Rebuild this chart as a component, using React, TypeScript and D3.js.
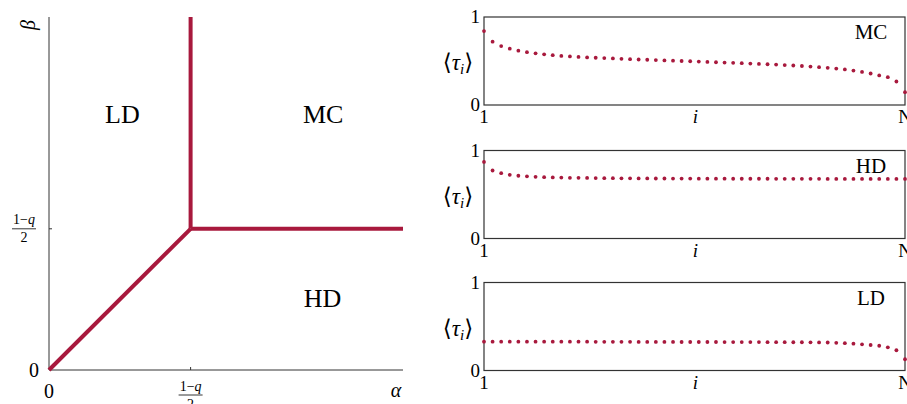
import React from "react";
import * as d3 from "d3";

// ---------- data ----------
const qc = 0.4; // (1-q)/2 position on both axes
const phaseBoundaries: [number, number][][] = [
  [[0, 0], [qc, qc]],
  [[qc, qc], [qc, 1]],
  [[qc, qc], [1, qc]],
];
const phaseLabels = [
  { text: "LD", a: 0.213, b: 0.725 },
  { text: "MC", a: 0.78, b: 0.725 },
  { text: "HD", a: 0.778, b: 0.204 },
];

const mcValues = [
  0.84, 0.72, 0.67, 0.64, 0.617, 0.6, 0.587, 0.576, 0.566, 0.558,
  0.552, 0.546, 0.541, 0.537, 0.533, 0.529, 0.525, 0.521, 0.517, 0.514,
  0.511, 0.507, 0.504, 0.5, 0.497, 0.493, 0.489, 0.486, 0.482, 0.479,
  0.475, 0.471, 0.467, 0.463, 0.459, 0.454, 0.449, 0.443, 0.437, 0.43,
  0.423, 0.414, 0.404, 0.391, 0.376, 0.358, 0.336, 0.316, 0.267, 0.146,
];
const hdValues = [
  0.87, 0.773, 0.742, 0.724, 0.713, 0.706, 0.701, 0.697, 0.694, 0.692,
  0.69, 0.689, 0.688, 0.687, 0.686, 0.685, 0.684, 0.684, 0.683, 0.683,
  0.682, 0.682, 0.681, 0.681, 0.681, 0.68, 0.68, 0.68, 0.68, 0.679,
  0.679, 0.679, 0.679, 0.679, 0.678, 0.678, 0.678, 0.678, 0.678, 0.678,
  0.677, 0.677, 0.677, 0.677, 0.677, 0.677, 0.677, 0.677, 0.677, 0.677,
];
const ldValues = [
  0.328, 0.328, 0.328, 0.328, 0.328, 0.328, 0.328, 0.327, 0.327, 0.327,
  0.327, 0.327, 0.327, 0.326, 0.326, 0.326, 0.326, 0.326, 0.325, 0.325,
  0.325, 0.325, 0.325, 0.324, 0.324, 0.324, 0.324, 0.324, 0.323, 0.323,
  0.323, 0.323, 0.323, 0.322, 0.322, 0.322, 0.321, 0.321, 0.32, 0.319,
  0.318, 0.315, 0.311, 0.305, 0.298, 0.29, 0.281, 0.263, 0.23, 0.128,
];
const panels = [
  { name: "MC", values: mcValues },
  { name: "HD", values: hdValues },
  { name: "LD", values: ldValues },
];
const yTickLabels = ["0", "1"];
const xTickLabels = ["1", "i", "N"];

// ---------- style ----------
const RED = "#a8193d";
const AXIS = "#333";
const FONT = "'Liberation Serif', 'DejaVu Serif', serif";

export default function App() {
  const W = 907, H = 404;
  // left chart
  const x = d3.scaleLinear().domain([0, 1]).range([49, 403]);
  const y = d3.scaleLinear().domain([0, 1]).range([370, 17]);
  const line = d3.line<[number, number]>().x(d => x(d[0])).y(d => y(d[1]));

  // right panels
  const panelTops = [17, 150.5, 282.5];
  const panelH = 88;
  const px = d3.scaleLinear().domain([1, 50]).range([484, 905]);

  return (
    <svg width={W} height={H} style={{ position: "absolute", left: 0, top: 0, background: "#fff" }} fontFamily={FONT}>
      {/* left phase diagram */}
      <line x1={x(0)} x2={x(0)} y1={y(0)} y2={y(1)} stroke={AXIS} strokeWidth={1} />
      <line x1={x(0)} x2={x(1)} y1={y(0)} y2={y(0)} stroke={AXIS} strokeWidth={1} />
      <line x1={x(qc)} x2={x(qc)} y1={y(0)} y2={y(0) - 3} stroke={AXIS} strokeWidth={1} />
      <line x1={x(0)} x2={x(0) + 3} y1={y(qc)} y2={y(qc)} stroke={AXIS} strokeWidth={1} />
      {phaseBoundaries.map((seg, k) => (
        <path key={k} d={line(seg) || ""} stroke={RED} strokeWidth={4} fill="none" strokeLinecap="butt" />
      ))}
      {phaseLabels.map(p => (
        <text key={p.text} x={x(p.a) - 2} y={y(p.b) + 9} fontSize={26} textAnchor="middle">{p.text}</text>
      ))}
      {/* tick labels left */}
      <text x={x(0) - 10} y={y(0) + 7} fontSize={20} textAnchor="end">0</text>
      <text x={x(0)} y={y(0) + 28} fontSize={20} textAnchor="middle">0</text>
      {/* y fraction */}
      <g transform={`translate(24, ${y(qc)})`}>
        <text x={0} y={-4.5} fontSize={14} textAnchor="middle">1−<tspan fontStyle="italic">q</tspan></text>
        <line x1={-12} x2={12} y1={0} y2={0} stroke="#000" strokeWidth={0.8} />
        <text x={0} y={13.5} fontSize={14} textAnchor="middle">2</text>
      </g>
      {/* x fraction */}
      <g transform={`translate(${x(qc)}, 395)`}>
        <text x={0} y={-4} fontSize={14} textAnchor="middle">1−<tspan fontStyle="italic">q</tspan></text>
        <line x1={-12} x2={12} y1={0} y2={0} stroke="#000" strokeWidth={0.8} />
        <text x={0} y={13.5} fontSize={14} textAnchor="middle">2</text>
      </g>
      <text x={396} y={397} fontSize={20} fontStyle="italic" textAnchor="middle">α</text>
      <text transform="translate(35, 25) rotate(-90)" fontSize={20} fontStyle="italic" textAnchor="middle">β</text>

      {/* right panels */}
      {panels.map((p, k) => {
        const top = panelTops[k];
        const py = d3.scaleLinear().domain([0, 1]).range([top + panelH, top]);
        const mid = top + panelH / 2;
        return (
          <g key={p.name}>
            <rect x={px(1)} y={top} width={px(50) - px(1)} height={panelH} fill="none" stroke={AXIS} strokeWidth={1.2} />
            {p.values.map((v, i) => (
              <circle key={i} cx={px(i + 1)} cy={py(v)} r={1.9} fill={RED} />
            ))}
            <text x={px(50) - 34} y={top + 22} fontSize={21} textAnchor="middle">{p.name}</text>
            {yTickLabels.map((t, j) => (
              <text key={t} x={480} y={py(j) + 6} fontSize={19} textAnchor="end">{t}</text>
            ))}
            {xTickLabels.map((t, j) => (
              <text key={t} x={j === 0 ? px(1) : j === 1 ? (px(1) + px(50)) / 2 + 1 : px(50)} y={top + panelH + 18}
                fontSize={19} textAnchor="middle" fontStyle={t === "i" ? "italic" : "normal"}>{t}</text>
            ))}
            <text x={458} y={mid + 9} fontSize={23} textAnchor="middle">
              ⟨<tspan fontStyle="italic">τ</tspan><tspan fontStyle="italic" fontSize={15} dy={4}>i</tspan><tspan dy={-4}>⟩</tspan>
            </text>
          </g>
        );
      })}
    </svg>
  );
}
